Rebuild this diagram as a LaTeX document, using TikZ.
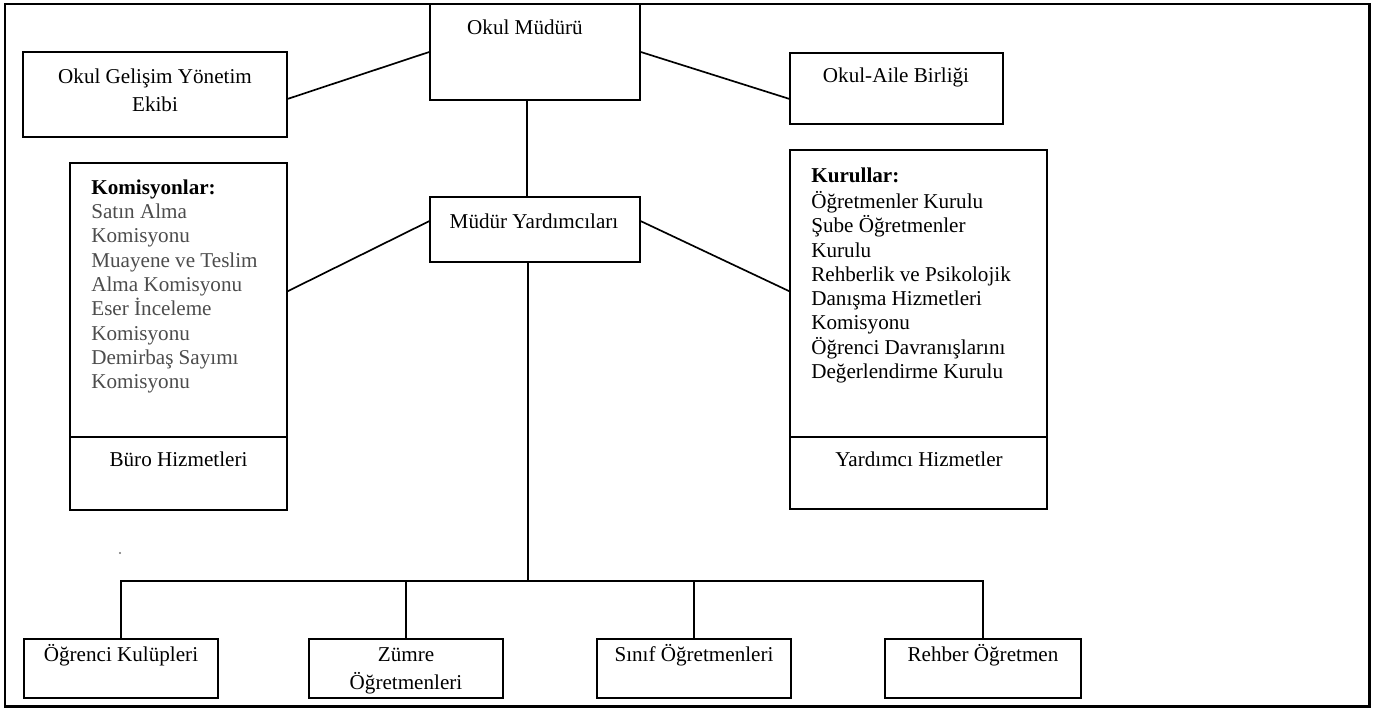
\documentclass[tikz,border=0pt]{standalone}
\usepackage{fontspec}
\setmainfont{Liberation Serif}
\usetikzlibrary{fit,calc}
\begin{document}
\begin{tikzpicture}[x=0.5682pt,y=-0.5682pt,
  box/.style={draw, line width=0.95pt, inner sep=0pt},
  frame/.style={draw, line width=1.7pt, inner sep=0pt},
  txt/.style={inner sep=0pt, font=\fontsize{12}{13.8}\selectfont},
  txtwide/.style={inner sep=0pt, font=\fontsize{12}{15.9}\selectfont},
  link/.style={line width=0.95pt}]
\useasboundingbox (0,0) rectangle (1378,710);
\node[frame, fit={(5,4)(1369,706)}] (outer) {};
% boxes
\node[box, fit={(430,4)(640,100)}] (mud) {};
\node[box, fit={(23,52)(287,137)}] (ogye) {};
\node[box, fit={(790,53)(1003,124)}] (oab) {};
\node[box, fit={(430,197)(640,262)}] (myrd) {};
\node[box, fit={(70,163)(287,437)}] (kom) {};
\node[box, fit={(70,437)(287,510)}] (buro) {};
\node[box, fit={(790,150)(1047,437)}] (kur) {};
\node[box, fit={(790,437)(1047,509)}] (yard) {};
\node[box, fit={(24,639)(218,698)}] (ogk) {};
\node[box, fit={(309,639)(503,698)}] (zum) {};
\node[box, fit={(597,639)(791,698)}] (sin) {};
\node[box, fit={(885,639)(1081,698)}] (reh) {};
% texts
\node[txt, anchor=base] (tmud) at (525,34) {Okul Müdürü};
\node[txtwide, anchor=north, align=center] (togye) at (155,63.4) {\strut Okul Gelişim Yönetim\\Ekibi\strut};
\node[txt, anchor=base] (toab) at (896,82) {Okul-Aile Birliği};
\node[txt, anchor=base] (tmyrd) at (534,228) {Müdür Yardımcıları};
\node[txt, anchor=north west, align=left, text=black!70] (tkom) at (91,177) {\strut{\color{black}\bfseries Komisyonlar:}\\Satın Alma\\Komisyonu\\Muayene ve Teslim\\Alma Komisyonu\\Eser İnceleme\\Komisyonu\\Demirbaş Sayımı\\Komisyonu\strut};
\node[txt, anchor=base] (tburo) at (178.5,466) {Büro Hizmetleri};
\node[txt, anchor=north west, align=left] (tkur) at (811,165) {\strut\textbf{Kurullar:}\\Öğretmenler Kurulu\\Şube Öğretmenler\\Kurulu\\Rehberlik ve Psikolojik\\Danışma Hizmetleri\\Komisyonu\\Öğrenci Davranışlarını\\Değerlendirme Kurulu\strut};
\node[txt, anchor=base] (tyard) at (919,466) {Yardımcı Hizmetler};
\node[txt, anchor=base] (togk) at (121,661) {Öğrenci Kulüpleri};
\node[txtwide, anchor=north, align=center] (tzum) at (406,641.4) {\strut Zümre\\Öğretmenleri\strut};
\node[txt, anchor=base] (tsin) at (694,661) {Sınıf Öğretmenleri};
\node[txt, anchor=base] (treh) at (983,661) {Rehber Öğretmen};
% connectors
\coordinate (bus) at (528,581);
\draw[link] (mud.west) -- ($(ogye.south east)+(0,-39)$);
\draw[link] (mud.east) -- ($(oab.south west)+(0,-26)$);
\draw[link] ($(mud.south)+(-8,0)$) -- ($(myrd.north)+(-8,0)$);
\draw[link] ($(myrd.north west)+(0,25)$) -- ($(kom.north east)+(0,129)$);
\draw[link] ($(myrd.north east)+(0,25)$) -- ($(kur.north west)+(0,142)$);
\draw[link] (myrd.south -| bus) -- (bus);
\draw[link] (ogk.north) |- (bus) -| (reh.north);
\draw[link] (zum.north) -- (zum.north |- bus);
\draw[link] (sin.north) -- (sin.north |- bus);
\fill[black!55] (120,553) circle (0.6pt);
\end{tikzpicture}
\end{document}
